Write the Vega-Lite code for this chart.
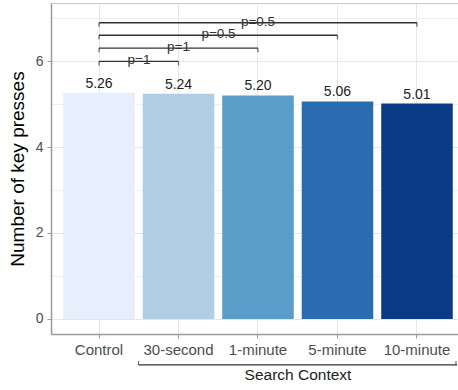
{
  "$schema": "https://vega.github.io/schema/vega-lite/v6.json",
  "width": 414,
  "height": 331,
  "padding": {"left": 8, "top": 3, "right": 0, "bottom": 0},
  "autosize": {"type": "pad"},
  "config": {
    "font": "Liberation Sans",
    "view": {"stroke": "#c8c8c8", "strokeWidth": 1},
    "axis": {
      "domainColor": "#9a9a9a",
      "domainWidth": 1.5,
      "tickColor": "#9a9a9a",
      "tickSize": 4,
      "tickWidth": 1,
      "gridColor": "#e6e6e6",
      "labelColor": "#4d4d4d",
      "labelFont": "Liberation Sans",
      "titleFont": "Liberation Sans",
      "titleColor": "#000000",
      "titleFontWeight": "normal"
    }
  },
  "datasets": {
    "bars": [
      {"cond": "Control", "value": 5.26},
      {"cond": "30-second", "value": 5.24},
      {"cond": "1-minute", "value": 5.2},
      {"cond": "5-minute", "value": 5.06},
      {"cond": "10-minute", "value": 5.01}
    ],
    "brackets": [
      {"cond": "Control", "end": "30-second", "y": 5.99, "p": "p=1"},
      {"cond": "Control", "end": "1-minute", "y": 6.3, "p": "p=1"},
      {"cond": "Control", "end": "5-minute", "y": 6.6, "p": "p=0.5"},
      {"cond": "Control", "end": "10-minute", "y": 6.89, "p": "p=0.5"}
    ]
  },
  "layer": [
    {
      "data": {"name": "bars"},
      "mark": {"type": "bar"},
      "encoding": {
        "x": {
          "field": "cond",
          "type": "nominal",
          "scale": {
            "domain": ["Control", "30-second", "1-minute", "5-minute", "10-minute"],
            "paddingInner": 0.1,
            "paddingOuter": 0.154
          },
          "axis": {
            "title": null,
            "labelAngle": 0,
            "labelFontSize": 15,
            "labelPadding": 4,
            "grid": true,
            "gridWidth": 1
          }
        },
        "y": {
          "field": "value",
          "type": "quantitative",
          "scale": {"domain": [-0.35, 7.35], "nice": false, "zero": false},
          "axis": {
            "title": "Number of key presses",
            "titleFontSize": 19,
            "titlePadding": 8,
            "values": [0, 1, 2, 3, 4, 5, 6, 7],
            "labelExpr": "datum.value % 2 == 0 ? datum.label : ''",
            "labelFontSize": 14,
            "labelPadding": 4,
            "tickOpacity": {"condition": {"test": "datum.value % 2 == 0", "value": 1}, "value": 0},
            "gridWidth": {"condition": {"test": "datum.value % 2 == 0", "value": 1}, "value": 0.6}
          }
        },
        "color": {
          "field": "cond",
          "type": "nominal",
          "scale": {
            "domain": ["Control", "30-second", "1-minute", "5-minute", "10-minute"],
            "range": ["#e8effc", "#b0cde3", "#5b9dca", "#2a6cb0", "#0b3a87"]
          },
          "legend": null
        }
      }
    },
    {
      "data": {"name": "bars"},
      "mark": {"type": "text", "baseline": "alphabetic", "dy": -5, "fontSize": 14, "color": "#222222"},
      "encoding": {
        "x": {"field": "cond", "type": "nominal"},
        "y": {"field": "value", "type": "quantitative"},
        "text": {"field": "value", "type": "quantitative", "format": ".2f"}
      }
    },
    {
      "data": {"name": "brackets"},
      "mark": {"type": "rule", "color": "#333333", "strokeWidth": 1.3},
      "encoding": {
        "x": {"field": "cond", "type": "nominal"},
        "x2": {"field": "end"},
        "y": {"field": "y", "type": "quantitative"}
      }
    },
    {
      "data": {"name": "brackets"},
      "mark": {"type": "tick", "orient": "vertical", "color": "#333333", "thickness": 1.3, "size": 4, "yOffset": 2},
      "encoding": {
        "x": {"field": "cond", "type": "nominal"},
        "y": {"field": "y", "type": "quantitative"}
      }
    },
    {
      "data": {"name": "brackets"},
      "mark": {"type": "tick", "orient": "vertical", "color": "#333333", "thickness": 1.3, "size": 4, "yOffset": 2},
      "encoding": {
        "x": {"field": "end", "type": "nominal"},
        "y": {"field": "y", "type": "quantitative"}
      }
    },
    {
      "data": {"values": [
        {"cond": "30-second", "y": 6.3, "p": "p=1"},
        {"cond": "1-minute", "y": 6.89, "p": "p=0.5"}
      ]},
      "mark": {"type": "text", "baseline": "middle", "dy": -1, "fontSize": 13.5, "color": "#333333"},
      "encoding": {
        "x": {"field": "cond", "type": "nominal"},
        "y": {"field": "y", "type": "quantitative"},
        "text": {"field": "p"}
      }
    },
    {
      "data": {"values": [
        {"cond": "Control", "y": 5.99, "p": "p=1"},
        {"cond": "30-second", "y": 6.6, "p": "p=0.5"}
      ]},
      "mark": {"type": "text", "baseline": "middle", "dy": -1, "xOffset": 40, "fontSize": 13.5, "color": "#333333"},
      "encoding": {
        "x": {"field": "cond", "type": "nominal"},
        "y": {"field": "y", "type": "quantitative"},
        "text": {"field": "p"}
      }
    },
    {
      "data": {"values": [{"from": "30-second", "to": "10-minute", "y": -1.07}]},
      "mark": {"type": "rule", "color": "#333333", "strokeWidth": 1.2, "xOffset": -40, "x2Offset": 40},
      "encoding": {
        "x": {"field": "from", "type": "nominal"},
        "x2": {"field": "to"},
        "y": {"field": "y", "type": "quantitative"}
      }
    },
    {
      "data": {"values": [{"at": "30-second", "y": -1.07}]},
      "mark": {"type": "tick", "orient": "vertical", "color": "#333333", "thickness": 1.2, "size": 4, "yOffset": -2, "xOffset": -40},
      "encoding": {
        "x": {"field": "at", "type": "nominal"},
        "y": {"field": "y", "type": "quantitative"}
      }
    },
    {
      "data": {"values": [{"at": "10-minute", "y": -1.07}]},
      "mark": {"type": "tick", "orient": "vertical", "color": "#333333", "thickness": 1.2, "size": 4, "yOffset": -2, "xOffset": 39},
      "encoding": {
        "x": {"field": "at", "type": "nominal"},
        "y": {"field": "y", "type": "quantitative"}
      }
    },
    {
      "data": {"values": [{"at": "1-minute", "y": -1.31, "label": "Search Context"}]},
      "mark": {"type": "text", "baseline": "middle", "xOffset": 40, "fontSize": 15.5, "color": "#222222"},
      "encoding": {
        "x": {"field": "at", "type": "nominal"},
        "y": {"field": "y", "type": "quantitative"},
        "text": {"field": "label"}
      }
    }
  ]
}
